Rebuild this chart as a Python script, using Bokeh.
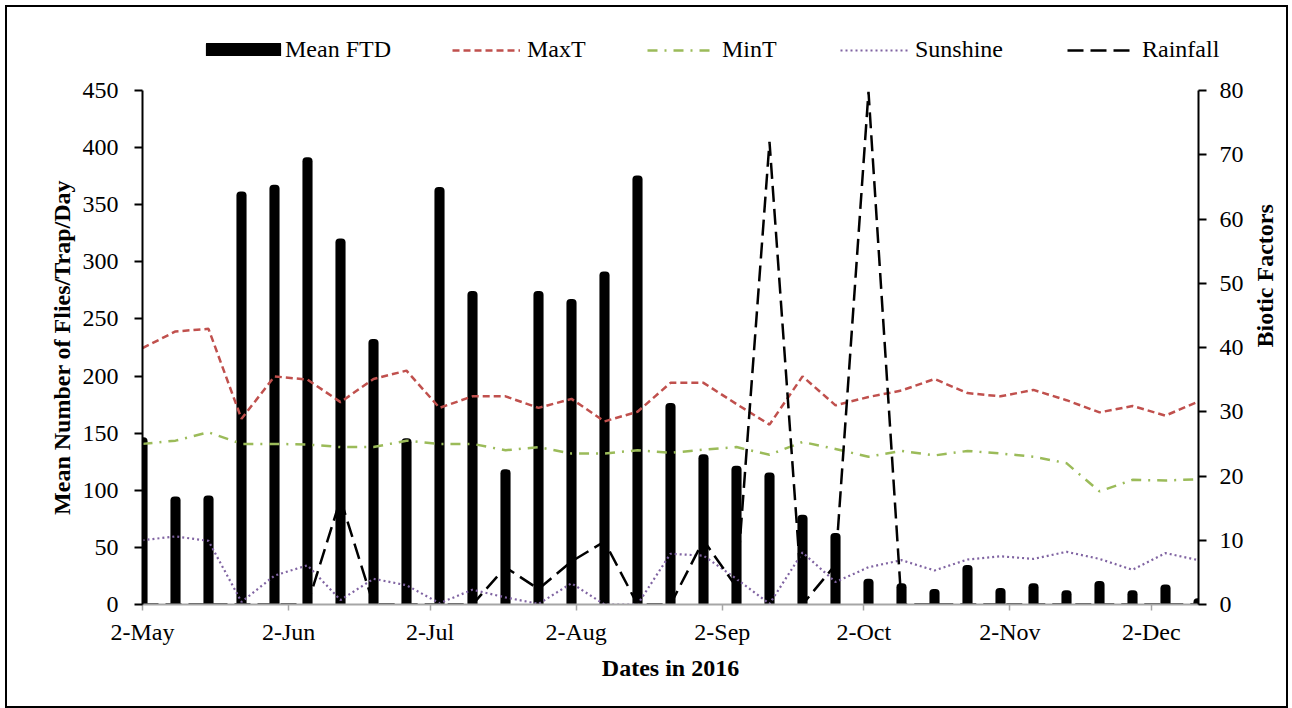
import math
import pandas as pd
from bokeh.plotting import figure
from bokeh.models import (Range1d, LinearAxis, FixedTicker, CustomJSTickFormatter,
                          Legend, LegendItem, ColumnDataSource, Div)
from bokeh.embed import file_html
from bokeh.resources import INLINE

# ---------------- data ----------------
dates = ["2016-05-02", "2016-05-09", "2016-05-16", "2016-05-23", "2016-05-30",
         "2016-06-06", "2016-06-13", "2016-06-20", "2016-06-27", "2016-07-04",
         "2016-07-11", "2016-07-18", "2016-07-25", "2016-08-01", "2016-08-08",
         "2016-08-15", "2016-08-22", "2016-08-29", "2016-09-05", "2016-09-12",
         "2016-09-19", "2016-09-26", "2016-10-03", "2016-10-10", "2016-10-17",
         "2016-10-24", "2016-10-31", "2016-11-07", "2016-11-14", "2016-11-21",
         "2016-11-28", "2016-12-05", "2016-12-12"]
mean_ftd = [143, 91, 92, 358, 364, 388, 317, 229, 142, 362, 271, 115, 271, 264, 288,
            372, 173, 128, 118, 112, 75, 59, 19, 15, 10, 31, 11, 15, 9, 17, 9, 14, 2]
max_t = [39.9, 42.5, 42.9, 28.9, 35.5, 35.0, 31.5, 35.1, 36.4, 30.6, 32.4, 32.4, 30.6,
         32.0, 28.5, 30.0, 34.5, 34.5, 31.2, 28.0, 35.5, 31.0, 32.3, 33.3, 35.1, 32.9,
         32.4, 33.4, 31.8, 29.9, 30.9, 29.4, 31.6]
min_t = [25.0, 25.5, 26.8, 25.0, 25.0, 24.9, 24.5, 24.5, 25.5, 25.0, 25.0, 24.0, 24.5,
         23.5, 23.5, 24.0, 23.6, 24.1, 24.5, 23.3, 25.3, 24.2, 23.0, 23.9, 23.2, 23.9,
         23.5, 23.0, 22.0, 17.6, 19.4, 19.3, 19.5]
sunshine = [10.0, 10.6, 9.9, 0.4, 4.5, 6.1, 0.7, 4.0, 3.0, 0.2, 2.3, 1.1, 0.1, 3.3, 0.0,
            0.0, 7.9, 7.6, 4.0, 0.1, 8.1, 3.5, 5.8, 6.9, 5.3, 7.0, 7.5, 7.1, 8.2, 7.1,
            5.4, 8.0, 6.9]
rainfall = [0, 0, 0, 0, 0, 0, 16.4, 0, 0, 0, 0, 5.8, 2.4, 6.7, 9.8, 0, 0, 10.0, 2.7,
            72.0, 0, 6.2, 79.8, 0, 0, 0, 0, 0, 0, 0, 0, 0, 0]
tick_dates = ["2016-05-02", "2016-06-02", "2016-07-02", "2016-08-02", "2016-09-02",
              "2016-10-02", "2016-11-02", "2016-12-02"]
left_ticks = [0, 50, 100, 150, 200, 250, 300, 350, 400, 450]
right_ticks = [0, 10, 20, 30, 40, 50, 60, 70, 80]
series_labels = ["Mean FTD", "MaxT", "MinT", "Sunshine", "Rainfall"]

x = pd.to_datetime(dates)
src = ColumnDataSource(dict(x=x, ftd=mean_ftd, maxt=max_t, mint=min_t,
                            sun=sunshine, rain=rainfall))

FONT = "Liberation Serif"
FS = "24px"

BAR_STYLE = dict(fill_color="black", line_color="black", line_width=8, line_join="round")
LINE_STYLES = {
    "MaxT": dict(line_color="#C0504D", line_width=2.5, line_dash="7 4"),
    "MinT": dict(line_color="#9BBB59", line_width=2.5, line_dash="10 7 2 7"),
    "Sunshine": dict(line_color="#8064A2", line_width=2.2, line_dash="2 3"),
    "Rainfall": dict(line_color="black", line_width=2.5, line_dash="16 7"),
}

# ---------------- main chart ----------------
p = figure(frame_width=1056, frame_height=514, x_axis_type="datetime",
           output_backend="svg", toolbar_location=None,
           x_range=Range1d(x[0], x[-1]), y_range=Range1d(0, 450),
           min_border_left=137, min_border_right=90, min_border_top=15,
           min_border_bottom=104, background_fill_color="white",
           border_fill_color="white", outline_line_color=None,
           styles={"position": "absolute", "left": "5px", "top": "75px"})
p.grid.visible = False
p.extra_y_ranges = {"right": Range1d(0, 80)}

p.vbar(x="x", top="ftd", bottom=0, width=0.45 * 86400000, source=src, **BAR_STYLE)
p.line("x", "maxt", source=src, y_range_name="right", **LINE_STYLES["MaxT"])
p.line("x", "mint", source=src, y_range_name="right", **LINE_STYLES["MinT"])
p.line("x", "sun", source=src, y_range_name="right", **LINE_STYLES["Sunshine"])
p.line("x", "rain", source=src, y_range_name="right", **LINE_STYLES["Rainfall"])

# x axis
xa = p.xaxis[0]
xa.ticker = FixedTicker(ticks=[pd.Timestamp(d).value / 1e6 for d in tick_dates])
xa.formatter = CustomJSTickFormatter(code="""
const m = ["Jan","Feb","Mar","Apr","May","Jun","Jul","Aug","Sep","Oct","Nov","Dec"];
const d = new Date(tick);
return d.getUTCDate() + "-" + m[d.getUTCMonth()];
""")
xa.axis_line_color = "#A6A6A6"
xa.axis_line_width = 2
xa.major_tick_line_color = "#A6A6A6"
xa.major_tick_line_width = 1.5
xa.major_tick_out = 6
xa.major_tick_in = 0
xa.minor_tick_line_color = None
xa.major_label_standoff = 8
xa.axis_label = "Dates in 2016"
xa.axis_label_standoff = 7

# left axis
ya = p.yaxis[0]
ya.ticker = FixedTicker(ticks=left_ticks)
ya.axis_label = "Mean Number of Flies/Trap/Day"
ya.axis_label_standoff = 5

# right axis
ra = LinearAxis(y_range_name="right", ticker=FixedTicker(ticks=right_ticks),
                axis_label="Biotic Factors")
p.add_layout(ra, "right")
ra.axis_label_orientation = math.pi / 2
ra.axis_label_standoff = 18

for ax in (ya, ra):
    ax.axis_line_color = "black"
    ax.axis_line_width = 2
    ax.major_tick_line_color = "black"
    ax.major_tick_line_width = 2
    ax.major_tick_out = 8
    ax.major_tick_in = 0
    ax.minor_tick_line_color = None
ya.major_label_standoff = 16
ra.major_label_standoff = 13

for ax in (xa, ya, ra):
    ax.major_label_text_font = FONT
    ax.major_label_text_font_size = FS
    ax.major_label_text_color = "black"
    ax.axis_label_text_font = FONT
    ax.axis_label_text_font_size = FS
    ax.axis_label_text_font_style = "bold"
    ax.axis_label_text_color = "black"

# ---------------- legend strip (above the chart) ----------------
pl = figure(width=1283, height=70, output_backend="svg", toolbar_location=None,
            x_range=Range1d(0, 1), y_range=Range1d(0, 1),
            x_axis_location=None, y_axis_location=None,
            min_border_left=0, min_border_right=0, min_border_top=0,
            min_border_bottom=0, outline_line_color=None,
            background_fill_color="white", border_fill_color="white",
            styles={"position": "absolute", "left": "5px", "top": "5px"})
pl.grid.visible = False

nan = float("nan")
leg_renderers = [pl.vbar(x=[nan], top=[nan], width=1, **BAR_STYLE)]
for lab in series_labels[1:]:
    leg_renderers.append(pl.line(x=[nan], y=[nan], **LINE_STYLES[lab]))

# (glyph box left in px, glyph width, glyph height, label standoff)
leg_layout = [(196, 84, 13, 0), (447, 68, 10, 7), (642, 68, 10, 7),
              (835, 68, 10, 7), (1062, 68, 10, 7)]
for lab, r, (lx, gw, gh, st) in zip(series_labels, leg_renderers, leg_layout):
    pl.add_layout(Legend(items=[LegendItem(label=lab, renderers=[r])],
                         orientation="horizontal", location=(lx, 12),
                         label_text_font=FONT, label_text_font_size=FS,
                         label_text_color="black", glyph_width=gw, glyph_height=gh,
                         label_standoff=st, padding=0, margin=0,
                         border_line_color=None, background_fill_alpha=0))

# outer frame of the whole chart
frame_box = Div(text="", width=1283, height=703, margin=0,
                styles={"position": "absolute", "left": "5px", "top": "5px",
                        "border": "2px solid black", "box-sizing": "border-box",
                        "pointer-events": "none", "z-index": "10"})

open("out.html", "w").write(file_html([pl, p, frame_box], INLINE))
